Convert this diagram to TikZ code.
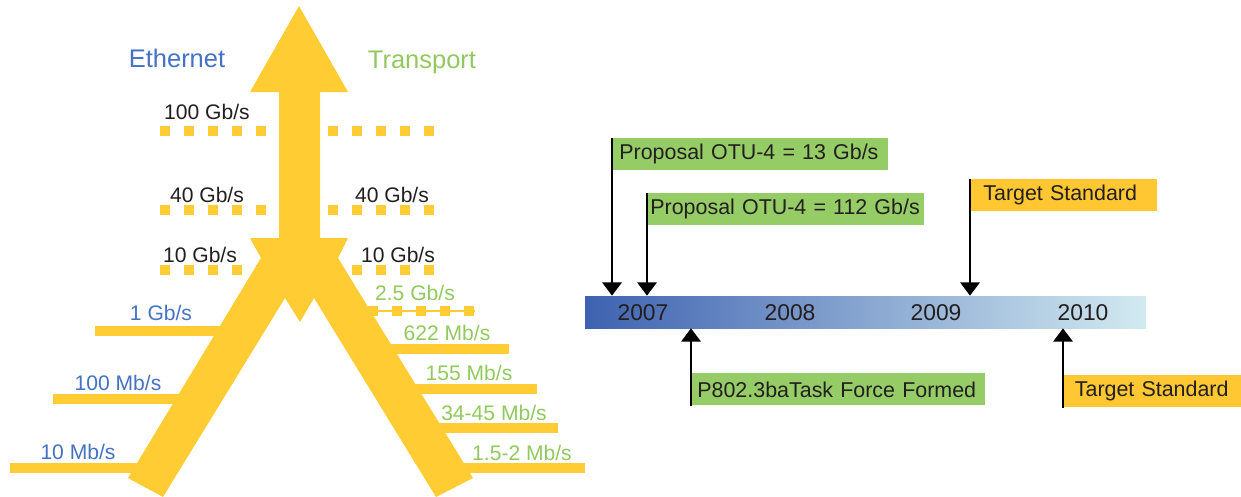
\documentclass[tikz,border=0pt]{standalone}
\usepackage{fontspec}
\setmainfont{Liberation Sans}
\usepackage{tikz}
\usetikzlibrary{arrows.meta,positioning,calc}
\definecolor{RateYellow}{RGB}{255,204,51}
\definecolor{EthBlue}{RGB}{68,114,196}
\definecolor{TransGreen}{RGB}{146,201,94}
\definecolor{NoteGreen}{RGB}{150,204,102}
\definecolor{NoteOrange}{RGB}{255,200,50}
\definecolor{BarDark}{RGB}{62,98,176}
\definecolor{BarLight}{RGB}{210,234,240}
\definecolor{Ink}{RGB}{35,31,32}
\newcommand{\Gbs}[0]{Gb/s}
\newcommand{\Mbs}[0]{Mb/s}

\begin{document}
\begin{tikzpicture}[x=0.02cm,y=-0.02cm,>={Triangle[width=11pt,length=7.5pt]},
        rate/.style={font=\fontsize{12}{14}\selectfont,text=Ink,inner sep=0pt},
        side/.style={font=\fontsize{14.5}{17}\selectfont,inner sep=0pt},
        year/.style={font=\fontsize{13}{15}\selectfont,text=Ink,inner sep=0pt},
        note/.style={anchor=north west,font=\fontsize{12.2}{14}\selectfont,text=Ink,minimum height=0.64cm,inner ysep=0pt,align=left},
        pointer/.style={->,line width=1.1pt}]
        \useasboundingbox (0,0) rectangle (1241,497);

        % Draw the dotted rate lines
        \foreach \y in {126, 205, 265}{
            \foreach \x in {160, 184, 208, 232, 256, 328, 352, 376, 400, 424}{
                \fill[RateYellow] (\x,\y) rectangle ++(10,9.5);
            }
        }
        \draw[RateYellow, line width=1.2pt] (370,311) -- (475,311);
        \foreach \x in {368, 392, 416, 440, 464}{
            \fill[RateYellow] (\x,306) rectangle ++(10,9.5);
        }

        % Draw the rate bars on both legs
        \foreach \xa/\xb/\y in {95/240/326, 53/190/394, 10/150/463, 380/509/344, 405/537/384, 430/558/423, 455/585/463}{
            \fill[RateYellow] (\xa,\y) rectangle (\xb,\y+10);
        }

        % Draw the big arrow
        \fill[RateYellow] (299,6) -- (348,92) -- (320,92) -- (320,238) -- (348,238) -- (338,258)
            -- (473,478) -- (436,497) -- (314,298) -- (300,322) -- (285,298) -- (163,497)
            -- (128,478) -- (261,258) -- (250,238) -- (279,238) -- (279,92) -- (250,92) -- cycle;

        % Draw the headings
        \node[side, text=EthBlue] (eth) at (177,58) {Ethernet};
        \node[side, text=TransGreen] (trans) at (422,62) {Transport};

        % Draw the shared rate labels
        \foreach \x/\y/\txt[count=\c] in {207/112/100 \Gbs, 207/195/40 \Gbs, 200/255/10 \Gbs, 392/195/40 \Gbs, 398/255/10 \Gbs}{
            \node[rate] (r\c) at (\x,\y) {\txt};
        }

        % Draw the ethernet labels
        \foreach \x/\y/\txt[count=\c] in {161/313/1 \Gbs, 118/383/100 \Mbs, 78/452/10 \Mbs}{
            \node[rate, text=EthBlue] (e\c) at (\x,\y) {\txt};
        }

        % Draw the transport labels
        \foreach \x/\y/\txt[count=\c] in {415/293/2.5 \Gbs, 447/333/622 \Mbs, 469/373/155 \Mbs, 494/413/34-45 \Mbs, 522/453/1.5-2 \Mbs}{
            \node[rate, text=TransGreen] (t\c) at (\x,\y) {\txt};
        }

        % Draw the time bar
        \node[minimum width=11.22cm, minimum height=0.64cm, inner sep=0pt, left color=BarDark, right color=BarLight] (timebar) at (865.5,312) {};
        \foreach \yr/\x in {2007/643, 2008/790, 2009/936, 2010/1083}{
            \node[year] (y\yr) at (\x,313) {\yr};
        }

        % Draw the events above and below the bar
        \node[note, fill=NoteGreen, text width=5.24cm, inner xsep=0.14cm] (otu13) at (612,138) {Proposal OTU-4 = 13 Gb/s};
        \node[note, fill=NoteGreen, text width=5.42cm, inner xsep=0.06cm] (otu112) at (647,193) {Proposal OTU-4 = 112 Gb/s};
        \node[note, fill=NoteOrange, text width=3.22cm, inner xsep=0.26cm] (std1) at (970,179) {Target Standard};
        \node[note, fill=NoteGreen, text width=5.64cm, inner xsep=0.12cm] (task) at (691,373) {P802.3baTask Force Formed};
        \node[note, fill=NoteOrange, text width=3.1cm, inner xsep=0.23cm] (std2) at (1063,375) {Target Standard};

        % Draw the pointers
        \foreach \n in {otu13, otu112, std1}{
            \draw[pointer] (\n.north west) -- (\n.north west |- timebar.north);
        }
        \foreach \n in {task, std2}{
            \draw[pointer] (\n.south west) -- (\n.south west |- timebar.south);
        }
\end{tikzpicture}
\end{document}
